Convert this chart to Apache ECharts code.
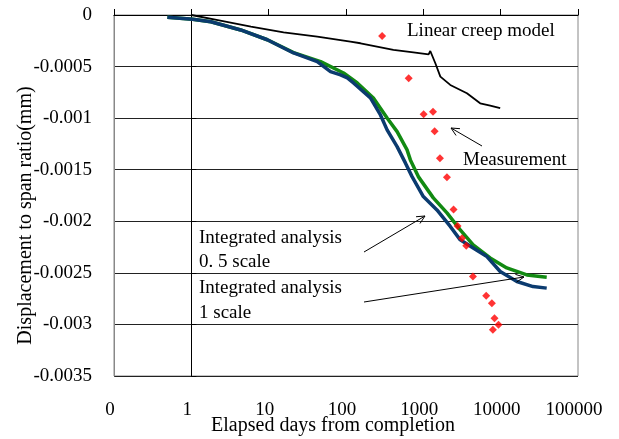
<!DOCTYPE html>
<html><head><meta charset="utf-8">
<script src="https://cdn.jsdelivr.net/npm/echarts@6/dist/echarts.min.js"></script>
<style>html,body{margin:0;padding:0;background:#fff}#c{width:619px;height:439px}</style>
</head><body><div id="c"></div>
<script>
// ---- data ----
const xTickLabels = ['0', '1', '10', '100', '1000', '10000', '100000'];
const yTickValues = [0, -0.0005, -0.001, -0.0015, -0.002, -0.0025, -0.003, -0.0035];

const creepDays = [1, 2.2, 5.9, 15.6, 42.5, 114, 154, 410, 743, 1170, 1230, 1430, 1660, 2230, 3660, 5430, 7330, 9860];
const creepVals = [0, -0.000049, -0.000113, -0.000168, -0.00021, -0.000259, -0.000274, -0.000339, -0.000362, -0.000381, -0.000349, -0.000468, -0.000598, -0.000678, -0.000759, -0.000856, -0.000879, -0.000904];

const fullDays = [0.49, 1.04, 1.79, 4.35, 9.6, 21, 42.5, 63, 85, 104, 125, 207, 279, 340, 458, 586, 715, 1000, 1500, 2230, 3000, 4410, 6640, 9860, 16200, 26200, 39400];
const fullVals = [-0.000022, -0.000042, -0.000065, -0.000145, -0.00024, -0.000368, -0.000452, -0.000549, -0.000581, -0.00061, -0.000659, -0.000804, -0.000969, -0.001114, -0.001276, -0.001434, -0.001567, -0.00176, -0.00189, -0.00205, -0.00218, -0.002258, -0.002342, -0.002487, -0.002584, -0.002633, -0.002648];

const halfDays = [0.49, 1.04, 1.79, 4.35, 9.6, 21, 47, 93, 140, 226, 340, 458, 616, 680, 861, 1346, 2020, 3000, 4410, 7310, 12000, 21800, 39400];
const halfVals = [-0.000022, -0.000042, -0.000065, -0.000145, -0.00024, -0.000365, -0.000452, -0.000562, -0.000659, -0.000804, -0.000998, -0.001131, -0.001308, -0.001405, -0.001567, -0.001773, -0.001919, -0.002083, -0.002229, -0.002355, -0.002452, -0.00252, -0.002542];

const measDays = [293, 646, 1009, 1334, 1400, 1640, 2020, 2460, 2770, 3160, 3590, 4380, 6500, 7700, 8320, 9370, 7930];
const measVals = [-0.000203, -0.000613, -0.000962, -0.000937, -0.001127, -0.001389, -0.001573, -0.001885, -0.002045, -0.002164, -0.002237, -0.002536, -0.002721, -0.002794, -0.002939, -0.003004, -0.003052];

// ---- helpers ----
const zip = (a, b) => a.map((v, i) => [v, b[i]]);
const FONT = '"Liberation Serif","Times New Roman",serif';
const G = {left: 114, top: 15, right: 41, bottom: 63};
const W = 619, H = 439;
const plotW = W - G.left - G.right;

function arrow(x1, y1, x2, y2) {
  const a = Math.atan2(y2 - y1, x2 - x1), L = 9, s = 0.45;
  return [
    {type: 'line', shape: {x1, y1, x2, y2}, style: {stroke: '#000', lineWidth: 1}, z: 100},
    {type: 'polyline', shape: {points: [
      [x2 - L * Math.cos(a - s), y2 - L * Math.sin(a - s)], [x2, y2],
      [x2 - L * Math.cos(a + s), y2 - L * Math.sin(a + s)]]},
      style: {stroke: '#000', lineWidth: 1, fill: null}, z: 100}
  ];
}
function label(text, x, y) {
  return {type: 'text', style: {text, x, y, font: '19px ' + FONT, fill: '#000', verticalAlign: 'middle'}, z: 100};
}

const chart = echarts.init(document.getElementById('c'), null, {renderer: 'canvas'});
chart.setOption({
  backgroundColor: '#fff',
  animation: false,
  grid: {left: G.left, top: G.top, right: G.right, bottom: G.bottom, show: true, borderColor: '#888', borderWidth: 1,
    backgroundColor: '#fff', containLabel: false, outerBoundsMode: 'none'},
  xAxis: [{
    type: 'log', logBase: 10, min: 0.1, max: 100000, splitNumber: 6, position: 'bottom',
    axisLine: {show: true, lineStyle: {color: '#888', width: 1}},
    axisTick: {show: false}, splitLine: {show: false}, minorTick: {show: false},
    axisLabel: {margin: 25, color: '#000', fontFamily: FONT, fontSize: 19, padding: [0, 8, 0, 0],
      formatter: v => xTickLabels[Math.round(Math.log10(v)) + 1]},
    name: 'Elapsed days from completion', nameLocation: 'middle', nameGap: 40, nameMoveOverlap: false,
    nameTextStyle: {color: '#000', fontFamily: FONT, fontSize: 20, padding: [0, 26, 0, 0]}
  }, {
    type: 'log', logBase: 10, min: 0.1, max: 100000, splitNumber: 6, position: 'top',
    axisLine: {show: true, lineStyle: {color: '#000', width: 1}},
    axisTick: {show: true, inside: false, length: 6, lineStyle: {color: '#000'}},
    axisLabel: {show: false}, splitLine: {show: false}
  }],
  yAxis: [{
    type: 'value', min: -0.0035, max: 0, interval: 0.0005, position: 'left',
    axisLine: {show: true, lineStyle: {color: '#888'}},
    axisTick: {show: false},
    splitLine: {show: true, lineStyle: {color: '#222', width: 1}},
    axisLabel: {margin: 22, color: '#000', fontFamily: FONT, fontSize: 19,
      formatter: v => { const i = yTickValues.findIndex(t => Math.abs(t - v) < 1e-9); return i >= 0 ? String(yTickValues[i]) : ''; }},
    name: 'Displacement to span ratio(mm)', nameLocation: 'middle', nameGap: 78, nameRotate: 90, nameMoveOverlap: false,
    nameTextStyle: {color: '#000', fontFamily: FONT, fontSize: 20, padding: [0, 40, 0, 0]}
  }, {
    type: 'value', min: -0.0035, max: 0, interval: 0.0005, position: 'left', offset: -plotW / 6,
    axisLine: {show: true, onZero: false, lineStyle: {color: '#000', width: 1}},
    axisTick: {show: true, inside: true, length: 5, lineStyle: {color: '#000'}},
    axisLabel: {show: false}, splitLine: {show: false}
  }],
  series: [
    {name: 'Linear creep model', type: 'line', data: zip(creepDays, creepVals), symbol: 'none',
      lineStyle: {color: '#000', width: 1.8}, z: 3},
    {name: 'Integrated analysis 0.5 scale', type: 'line', data: zip(halfDays, halfVals), symbol: 'none',
      lineStyle: {color: '#128a12', width: 3.5}, z: 4},
    {name: 'Integrated analysis 1 scale', type: 'line', data: zip(fullDays, fullVals), symbol: 'none',
      lineStyle: {color: '#0b3b6f', width: 3.5}, z: 5},
    {name: 'Measurement', type: 'scatter', data: zip(measDays, measVals), symbol: 'diamond', symbolSize: 8,
      itemStyle: {color: '#ff0000'}, z: 6}
  ],
  graphic: [
    label('Linear creep model', 407, 31),
    label('Measurement', 463, 160),
    label('Integrated analysis', 199, 238),
    label('0. 5 scale', 199, 262),
    label('Integrated analysis', 199, 288),
    label('1 scale', 199, 313),
    ...arrow(482, 146, 451, 128),
    ...arrow(364, 252, 425, 216),
    ...arrow(364, 302, 524, 277)
  ]
});
</script></body></html>
